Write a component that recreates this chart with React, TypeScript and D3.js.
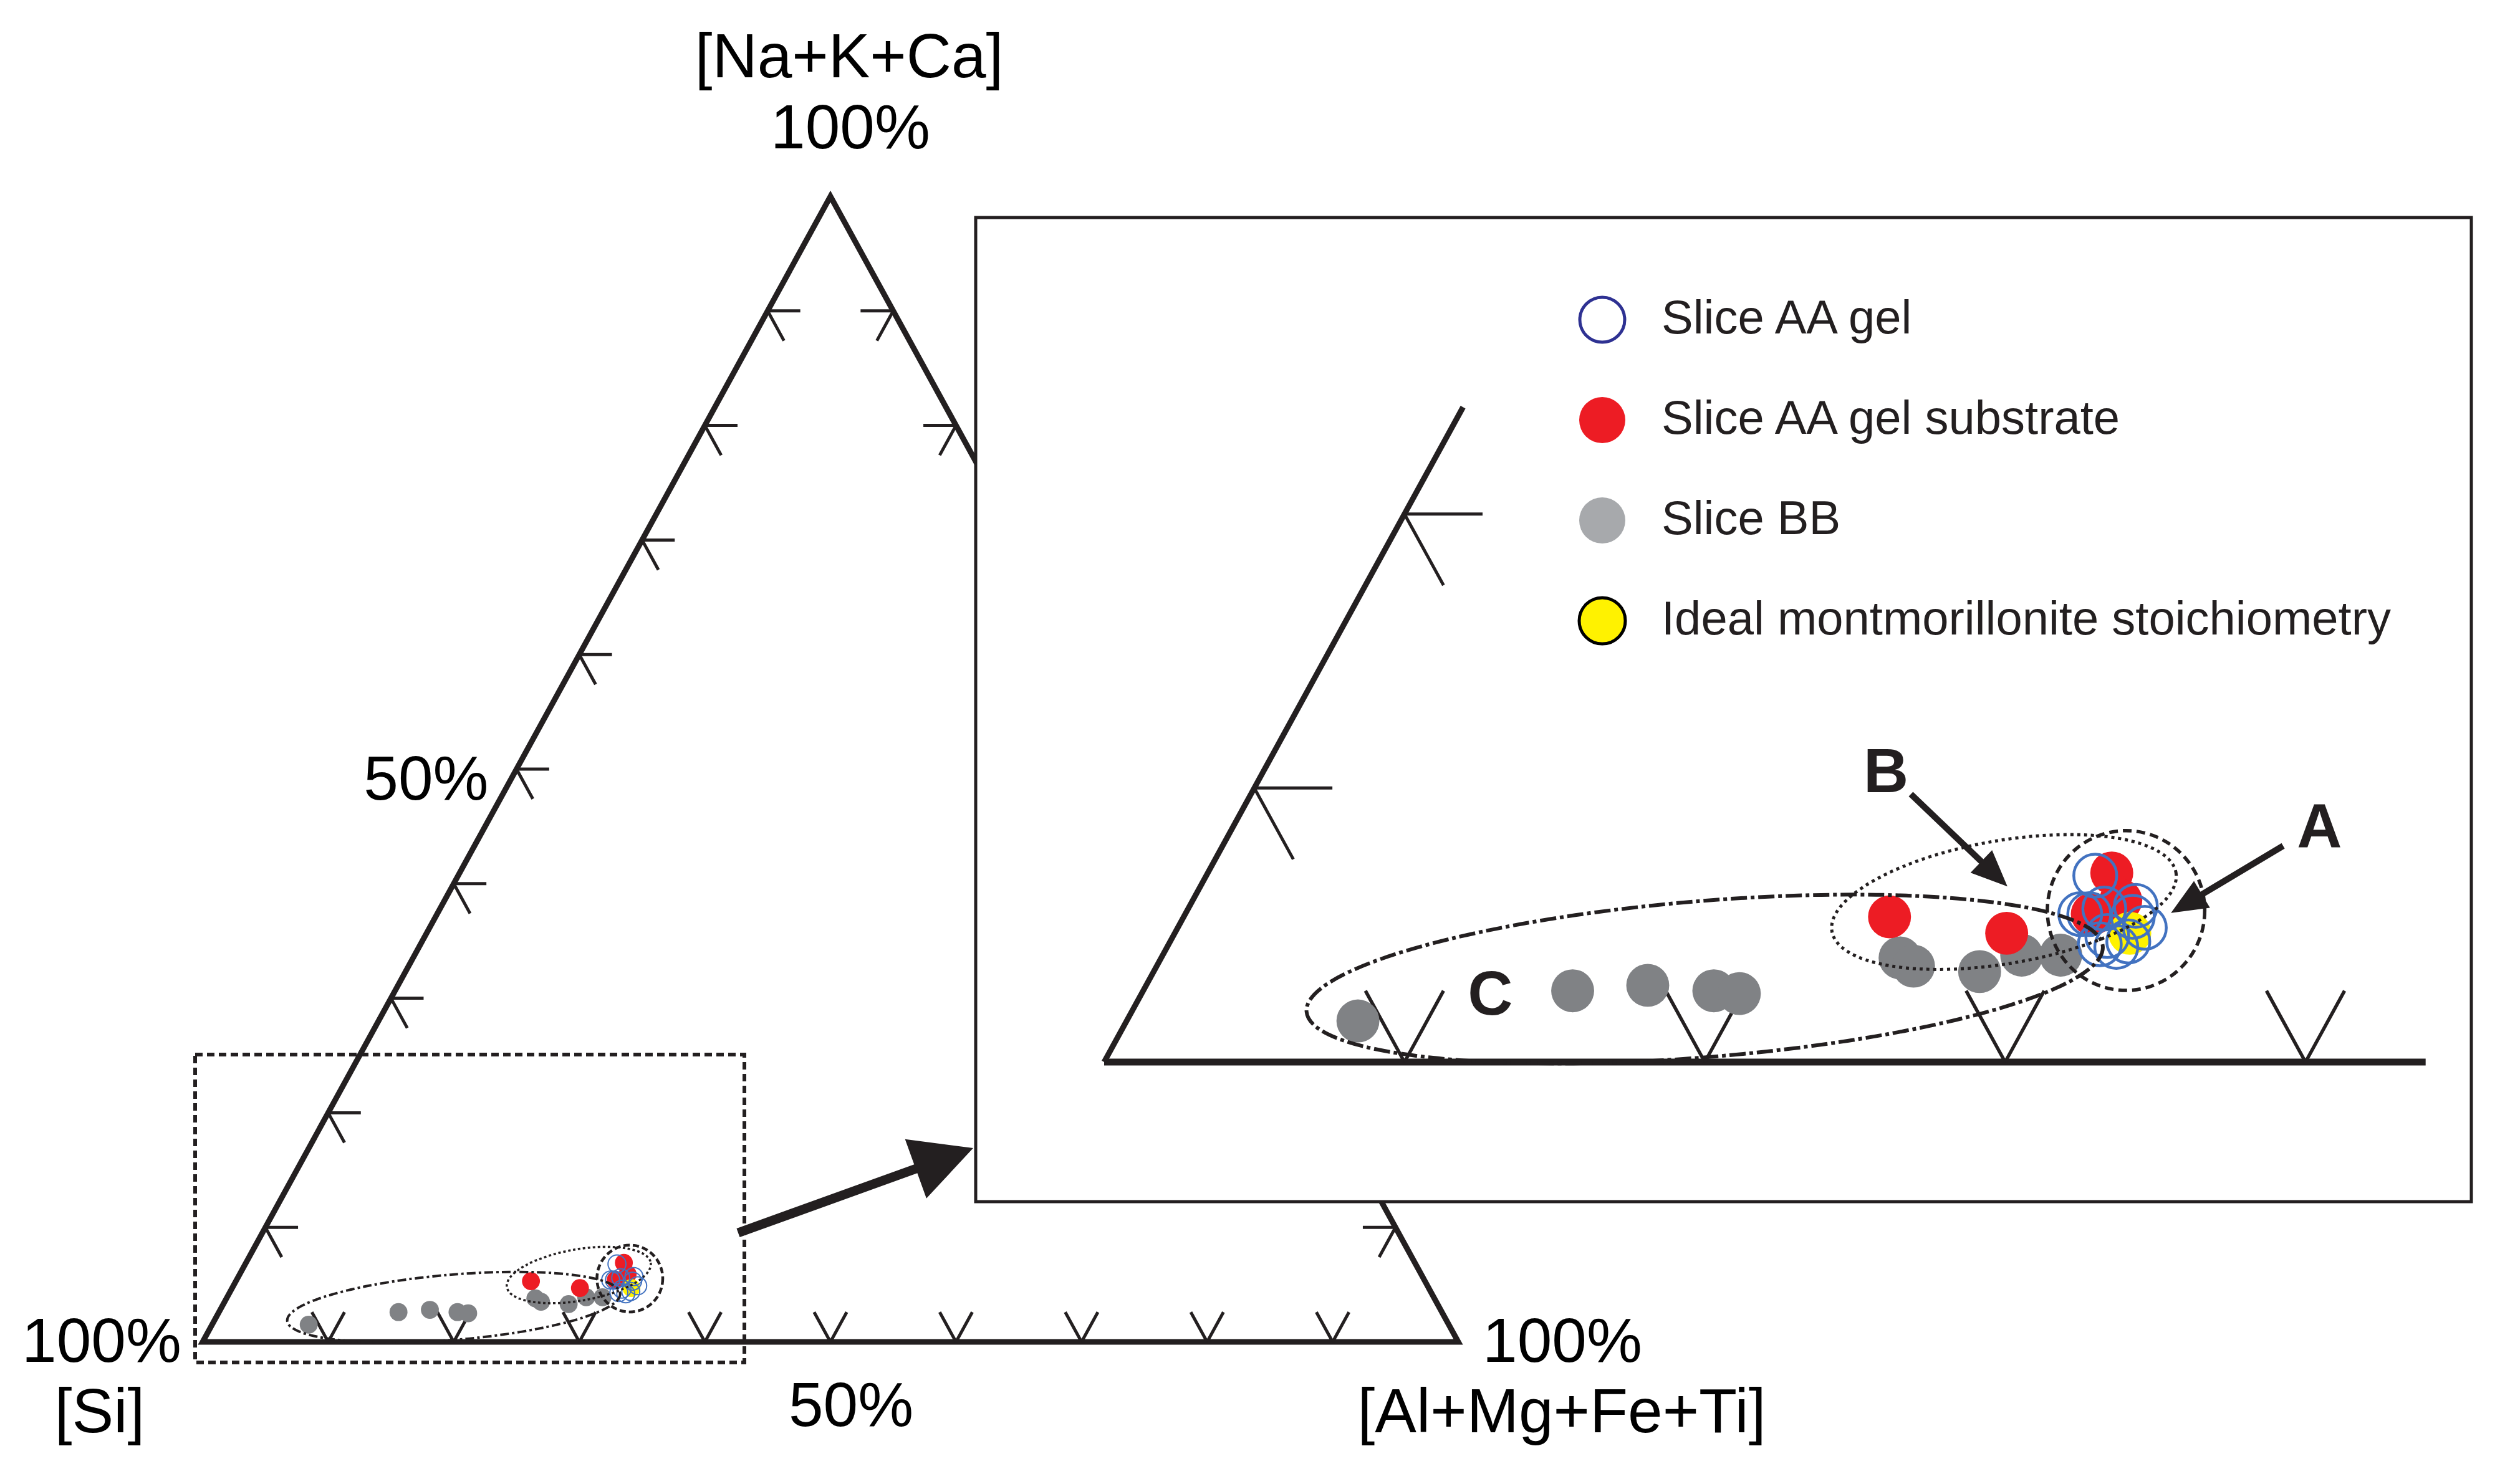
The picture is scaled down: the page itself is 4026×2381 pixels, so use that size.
import React from 'react';
import * as d3 from 'd3';

type Comp = {si: number; nkc: number; amft: number};
type View = {ox: number; oy: number; k: number};
type Pt = [number, number];

// compositions, % of [Si] / [Na+K+Ca] / [Al+Mg+Fe+Ti]
const sliceBB: Comp[] = [
  {si: 90.8, nkc: 1.5, amft: 7.7},
  {si: 83.1, nkc: 2.6, amft: 14.3},
  {si: 80.5, nkc: 2.8, amft: 16.7},
  {si: 78.4, nkc: 2.6, amft: 19.0},
  {si: 77.6, nkc: 2.5, amft: 19.9},
  {si: 71.6, nkc: 3.8, amft: 24.6},
  {si: 71.3, nkc: 3.5, amft: 25.2},
  {si: 69.2, nkc: 3.3, amft: 27.5},
  {si: 67.5, nkc: 3.9, amft: 28.6},
  {si: 66.2, nkc: 3.9, amft: 29.9},
];

const sliceAASubstrate: Comp[] = [
  {si: 71.2, nkc: 5.3, amft: 23.5},
  {si: 67.6, nkc: 4.7, amft: 27.7},
  {si: 63.0, nkc: 6.9, amft: 30.1},
  {si: 63.2, nkc: 5.9, amft: 30.9},
  {si: 64.4, nkc: 5.4, amft: 30.2},
];

const sliceAAGel: Comp[] = [
  {si: 63.6, nkc: 6.8, amft: 29.6},
  {si: 64.8, nkc: 5.4, amft: 29.8},
  {si: 64.5, nkc: 5.4, amft: 30.1},
  {si: 63.9, nkc: 5.6, amft: 30.5},
  {si: 62.8, nkc: 5.7, amft: 31.5},
  {si: 62.9, nkc: 4.9, amft: 32.2},
  {si: 63.1, nkc: 5.3, amft: 31.6},
  {si: 64.7, nkc: 4.3, amft: 31.0},
  {si: 64.2, nkc: 4.2, amft: 31.6},
  {si: 63.7, nkc: 4.4, amft: 31.9},
  {si: 64.3, nkc: 4.6, amft: 31.1},
];

const idealMontmorillonite: Comp[] = [{si: 63.5, nkc: 4.7, amft: 31.8}];

const tickValues = [10, 20, 30, 40, 50, 60, 70, 80, 90];
const rightTicksShown = [10, 80, 90]; // others sit behind the inset box
const insetLeftTicks = [10, 20];
const insetBaseTicks = [10, 20, 30, 40];

const legendLabels = ['Slice AA gel', 'Slice AA gel substrate', 'Slice BB', 'Ideal montmorillonite stoichiometry'];

// group outlines, centre in ternary %, radii in % of base length
const groupOutlines = [
  {name: 'C', nkc: 3.03, amft: 18.48, rx: 13.3, ry: 2.6, angle: -4.7, kind: 'dashdot'},
  {name: 'B', nkc: 5.84, amft: 27.04, rx: 5.81, ry: 2.05, angle: -9.7, kind: 'dotted'},
  {name: 'A', nkc: 5.53, amft: 31.26, rx: 2.62, ry: 2.66, angle: 0, kind: 'dashed'},
];

// callouts in the inset, [nkc, amft]
const callouts: {label: string; text: Pt; from?: Pt; to?: Pt}[] = [
  {label: 'A', text: [7.83, 36.55], from: [7.89, 35.31], to: [5.44, 32.8]},
  {label: 'B', text: [9.85, 21.11], from: [9.78, 21.97], to: [6.41, 26.87]},
  {label: 'C', text: [1.73, 11.99]},
];

const FONT = "'Liberation Sans', Arial, Helvetica, sans-serif";
const INK = '#231F20';
const RED = '#ED1C24';
const GREY = '#808285';
const GREY_LEGEND = '#A7A9AC';
const YELLOW = '#FFF200';
const BLUE = '#4272C0';
const BLUE_LEGEND = '#2E3192';

const width = 4026;
const height = 2381;
const sideLen = 2014;
const heightLen = 1838;
const TICK = 2.6;

const mainView: View = {ox: 325, oy: 2153, k: 1};
const insetView: View = {ox: 1771, oy: 1704, k: 2.392};
const insetBox = {x: 1565, y: 349, w: 2399, h: 1579};
const zoomRect = {x: 313, y: 1692, w: 881, h: 494};

const outlineStyles: Record<string, Record<string, {w: number; dash: string}>> = {
  main: {
    dashdot: {w: 4, dash: '14 5 4 5'},
    dotted: {w: 3.5, dash: '4 4'},
    dashed: {w: 4.5, dash: '10 5'},
  },
  inset: {
    dashdot: {w: 6, dash: '26 6 6 6'},
    dotted: {w: 5, dash: '5 6'},
    dashed: {w: 5.5, dash: '14 8'},
  },
};

const makeProjection = (v: View) => {
  const across = d3.scaleLinear().domain([0, 100]).range([0, sideLen * v.k]);
  const up = d3.scaleLinear().domain([0, 100]).range([0, heightLen * v.k]);
  const at = (nkc: number, amft: number): Pt => [v.ox + across(amft) + across(nkc) / 2, v.oy - up(nkc)];
  const of = (c: Comp): Pt => {
    const s = c.si + c.nkc + c.amft;
    return at((100 * c.nkc) / s, (100 * c.amft) / s);
  };
  return {at, of, across, k: v.k};
};
type Proj = ReturnType<typeof makeProjection>;

const line = d3.line<Pt>();

const tickSegments = (P: Proj, side: 'left' | 'right' | 'bottom', t: number): Pt[][] => {
  if (side === 'left') return [[P.at(t, 0), P.at(t, TICK)], [P.at(t, 0), P.at(t - TICK, TICK)]];
  if (side === 'right') return [[P.at(t, 100 - t), P.at(t, 100 - t - TICK)], [P.at(t, 100 - t), P.at(t - TICK, 100 - t)]];
  return [[P.at(0, t), P.at(TICK, t - TICK)], [P.at(0, t), P.at(TICK, t)]];
};

const Ticks = ({P, side, values, sw}: {P: Proj; side: 'left' | 'right' | 'bottom'; values: number[]; sw: number}) => (
  <g stroke={INK} strokeWidth={sw} fill="none">
    {values.map(t => tickSegments(P, side, t).map((seg, j) => <path key={`${side}${t}-${j}`} d={line(seg) || ''} />))}
  </g>
);

const Markers = ({P, blueW}: {P: Proj; blueW: number}) => {
  const r = 14.4 * P.k;
  return (
    <g>
      {sliceBB.map((c, i) => { const [x, y] = P.of(c); return <circle key={'g' + i} cx={x} cy={y} r={r} fill={GREY} />; })}
      {sliceAASubstrate.map((c, i) => { const [x, y] = P.of(c); return <circle key={'r' + i} cx={x} cy={y} r={r} fill={RED} />; })}
      {idealMontmorillonite.map((c, i) => { const [x, y] = P.of(c); return <circle key={'y' + i} cx={x} cy={y} r={r} fill={YELLOW} />; })}
      {sliceAAGel.map((c, i) => { const [x, y] = P.of(c); return <circle key={'b' + i} cx={x} cy={y} r={r} fill="none" stroke={BLUE} strokeWidth={blueW} />; })}
    </g>
  );
};

const Outlines = ({P, which}: {P: Proj; which: 'main' | 'inset'}) => (
  <g fill="none" stroke={INK}>
    {groupOutlines.map(e => {
      const [cx, cy] = P.at(e.nkc, e.amft);
      const st = outlineStyles[which][e.kind];
      return (
        <ellipse key={e.name} cx={cx} cy={cy} rx={P.across(e.rx)} ry={P.across(e.ry)}
          transform={`rotate(${e.angle} ${cx} ${cy})`} strokeWidth={st.w} strokeDasharray={st.dash} />
      );
    })}
  </g>
);

const arrowPath = (a: Pt, b: Pt, shaft: number, headL: number, headW: number) => {
  const dx = b[0] - a[0], dy = b[1] - a[1];
  const len = Math.hypot(dx, dy);
  const ux = dx / len, uy = dy / len;
  const px = -uy, py = ux;
  const bx = b[0] - ux * headL, by = b[1] - uy * headL;
  const pts: Pt[] = [
    [a[0] + px * shaft / 2, a[1] + py * shaft / 2],
    [bx + px * shaft / 2, by + py * shaft / 2],
    [bx + px * headW / 2, by + py * headW / 2],
    b,
    [bx - px * headW / 2, by - py * headW / 2],
    [bx - px * shaft / 2, by - py * shaft / 2],
    [a[0] - px * shaft / 2, a[1] - py * shaft / 2],
  ];
  return (line(pts) || '') + 'Z';
};

const MainTriangle = () => {
  const P = makeProjection(mainView);
  const si = P.at(0, 0), al = P.at(0, 100), na = P.at(100, 0);
  const half = P.at(50, 0), bottomHalf = P.at(0, 50);
  return (
    <g>
      <path d={(line([si, al, na]) || '') + 'Z'} fill="none" stroke={INK} strokeWidth={9} strokeLinejoin="miter" />
      <Ticks P={P} side="left" values={tickValues} sw={5} />
      <Ticks P={P} side="bottom" values={tickValues} sw={5} />
      <Ticks P={P} side="right" values={rightTicksShown} sw={5} />
      <Markers P={P} blueW={2} />
      <Outlines P={P} which="main" />
      <g fontSize={100} fill="#000" textAnchor="middle">
        <text x={na[0] + 30} y={na[1] - 191}>[Na+K+Ca]</text>
        <text x={na[0] + 32} y={na[1] - 77}>100%</text>
        <text x={si[0] - 162} y={si[1] + 32}>100%</text>
        <text x={si[0] - 165} y={si[1] + 145}>[Si]</text>
        <text x={al[0] + 167} y={al[1] + 32}>100%</text>
        <text x={al[0] + 166} y={al[1] + 145}>[Al+Mg+Fe+Ti]</text>
        <text x={bottomHalf[0] + 33} y={bottomHalf[1] + 135}>50%</text>
        <text x={half[0] - 45} y={half[1] + 49} textAnchor="end">50%</text>
      </g>
    </g>
  );
};

const Inset = () => {
  const P = makeProjection(insetView);
  return (
    <g>
      <rect x={insetBox.x} y={insetBox.y} width={insetBox.w} height={insetBox.h} fill="#fff" stroke={INK} strokeWidth={5} />
      <clipPath id="insetClip">
        <rect x={insetBox.x + 3} y={insetBox.y + 3} width={insetBox.w - 6} height={insetBox.h - 6} />
      </clipPath>
      <g clipPath="url(#insetClip)">
        <path d={line([P.at(0, 0), P.at(0, 44)]) || ''} stroke={INK} strokeWidth={11} fill="none" />
        <path d={line([P.at(23.9, 0), P.at(0, 0)]) || ''} stroke={INK} strokeWidth={9} fill="none" />
        <Ticks P={P} side="left" values={insetLeftTicks} sw={5} />
        <Ticks P={P} side="bottom" values={insetBaseTicks} sw={5.5} />
        <Markers P={P} blueW={4.5} />
        <Outlines P={P} which="inset" />
        {callouts.map(c => {
          const [tx, ty] = P.at(c.text[0], c.text[1]);
          return (
            <g key={c.label}>
              <text x={tx} y={ty} fontSize={100} fontWeight="bold" textAnchor="middle" fill={INK}>{c.label}</text>
              {c.from && c.to &&
                <path d={arrowPath(P.at(c.from[0], c.from[1]), P.at(c.to[0], c.to[1]), 10, 58, 50)} fill={INK} />}
            </g>
          );
        })}
      </g>
      <Legend />
    </g>
  );
};

const Legend = () => {
  const x0 = 2570, y0 = 513, step = 161, r = 38;
  const swatch = (i: number, cy: number) => {
    if (i === 0) return <circle cx={x0} cy={cy} r={r - 2} fill="#fff" stroke={BLUE_LEGEND} strokeWidth={5} />;
    if (i === 1) return <circle cx={x0} cy={cy} r={r - 1} fill={RED} />;
    if (i === 2) return <circle cx={x0} cy={cy} r={r - 1} fill={GREY_LEGEND} />;
    return <circle cx={x0} cy={cy} r={r - 1} fill={YELLOW} stroke="#000" strokeWidth={5} />;
  };
  return (
    <g>
      {legendLabels.map((label, i) => {
        const cy = y0 + i * step;
        return (
          <g key={label}>
            {swatch(i, cy)}
            <text x={x0 + 95} y={cy + 22} fontSize={76} fill={INK}>{label}</text>
          </g>
        );
      })}
    </g>
  );
};

const App = () => (
  <svg width={width} height={height} viewBox={`0 0 ${width} ${height}`} fontFamily={FONT}
    style={{position: 'absolute', left: 0, top: 0, background: '#fff'}}>
    <rect width={width} height={height} fill="#fff" />
    <MainTriangle />
    <rect x={zoomRect.x} y={zoomRect.y} width={zoomRect.w} height={zoomRect.h} fill="none" stroke={INK} strokeWidth={6} strokeDasharray="12 7" />
    <Inset />
    <path d={arrowPath([1184, 1978], [1561, 1842], 15, 98, 101)} fill={INK} />
  </svg>
);

export default App;
